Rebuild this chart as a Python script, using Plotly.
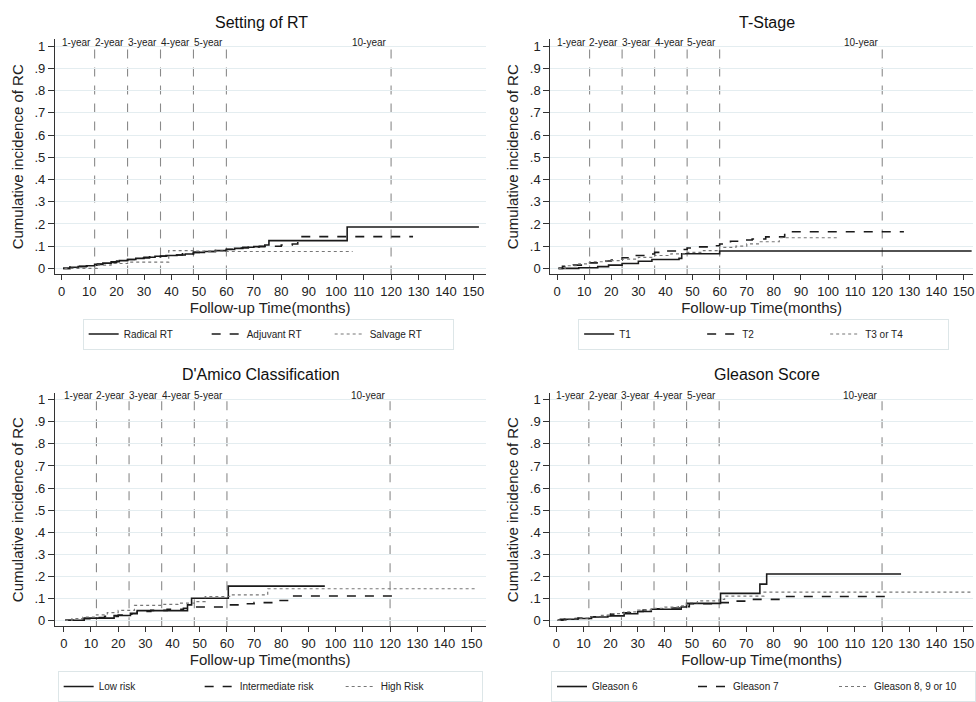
import plotly.graph_objects as go

# ---------------- data ----------------
x_ticks = list(range(0, 151, 10))
y_ticks = [0, 0.1, 0.2, 0.3, 0.4, 0.5, 0.6, 0.7, 0.8, 0.9, 1.0]
y_tick_text = ["0", ".1", ".2", ".3", ".4", ".5", ".6", ".7", ".8", ".9", "1"]
year_marks = [12, 24, 36, 48, 60, 120]
year_labels = ["1-year", "2-year", "3-year", "4-year", "5-year", "10-year"]

panel_titles = ["Setting of RT", "T-Stage", "D'Amico Classification", "Gleason Score"]

# Panel 1: Setting of RT
radical_t = [0.5, 3, 6, 9, 12, 15, 18, 21, 24, 27, 30, 34, 38, 42, 45, 48, 52, 56, 60, 63, 66, 70, 74, 75.5, 85, 104, 152]
radical_y = [0, 0.005, 0.008, 0.012, 0.018, 0.024, 0.030, 0.035, 0.040, 0.045, 0.050, 0.055, 0.058, 0.060, 0.065, 0.072, 0.076, 0.080, 0.085, 0.090, 0.095, 0.098, 0.105, 0.125, 0.125, 0.186, 0.186]
adjuvant_t = [0.5, 3, 6, 10, 13, 16, 20, 24, 28, 32, 36, 40, 44, 48, 52, 56, 60, 64, 68, 72, 76, 80, 84, 86, 128]
adjuvant_y = [0, 0.006, 0.010, 0.014, 0.020, 0.027, 0.033, 0.040, 0.047, 0.052, 0.056, 0.060, 0.066, 0.072, 0.076, 0.080, 0.086, 0.092, 0.096, 0.100, 0.100, 0.105, 0.110, 0.143, 0.143]
salvage_t = [1, 13, 18, 24, 39, 48, 60, 106]
salvage_y = [0, 0.015, 0.022, 0.028, 0.080, 0.078, 0.076, 0.076]

# Panel 2: T-Stage
t1_t = [0.5, 8, 15, 19, 24, 30, 35, 45, 46, 60, 153]
t1_y = [0, 0.003, 0.008, 0.015, 0.022, 0.032, 0.040, 0.045, 0.066, 0.078, 0.078]
t2_t = [0.5, 2, 6, 12, 16, 20, 24, 28, 32, 36, 40, 44, 48, 52, 56, 60, 64, 68, 72, 77, 84, 128]
t2_y = [0, 0.010, 0.015, 0.025, 0.033, 0.038, 0.048, 0.058, 0.065, 0.072, 0.078, 0.085, 0.092, 0.097, 0.102, 0.110, 0.122, 0.128, 0.132, 0.142, 0.165, 0.165]
t34_t = [0.5, 3, 8, 12, 18, 24, 30, 36, 42, 48, 54, 60, 66, 70, 75, 82, 104]
t34_y = [0, 0.012, 0.020, 0.030, 0.035, 0.042, 0.050, 0.058, 0.065, 0.072, 0.080, 0.095, 0.100, 0.110, 0.120, 0.138, 0.138]

# Panel 3: D'Amico
low_t = [0.5, 7.5, 18.5, 24.5, 27, 45.5, 47, 60.5, 96]
low_y = [0, 0.010, 0.022, 0.032, 0.044, 0.070, 0.100, 0.155, 0.155]
inter_t = [0.5, 5, 10, 15, 20, 25, 27, 32, 38, 44, 47, 60, 65, 70, 77, 84, 122]
inter_y = [0, 0.007, 0.012, 0.018, 0.024, 0.030, 0.040, 0.045, 0.050, 0.055, 0.060, 0.070, 0.075, 0.080, 0.090, 0.110, 0.110]
high_t = [0.5, 3, 7, 12, 16, 20, 26, 36, 42, 48, 52, 61, 75, 152]
high_y = [0, 0.008, 0.015, 0.025, 0.035, 0.045, 0.068, 0.072, 0.078, 0.085, 0.108, 0.115, 0.143, 0.143]

# Panel 4: Gleason
g6_t = [0.5, 1.5, 7, 13, 19, 25, 30, 35, 46, 48, 60.5, 75, 77.5, 127]
g6_y = [0, 0.005, 0.008, 0.015, 0.020, 0.030, 0.040, 0.050, 0.060, 0.077, 0.122, 0.164, 0.210, 0.210]
g7_t = [0.5, 3, 8, 12, 16, 20, 24, 28, 32, 36, 42, 47, 49, 60, 64, 72, 84, 122]
g7_y = [0, 0.005, 0.010, 0.016, 0.022, 0.028, 0.034, 0.040, 0.046, 0.052, 0.056, 0.062, 0.075, 0.080, 0.087, 0.095, 0.108, 0.108]
g8_t = [0.5, 4, 8, 12, 16, 20, 25, 30, 35, 40, 45, 48, 52, 60, 62, 76.5, 153]
g8_y = [0, 0.006, 0.010, 0.016, 0.022, 0.030, 0.038, 0.046, 0.054, 0.060, 0.066, 0.080, 0.088, 0.095, 0.110, 0.128, 0.128]

panels = [
    [("Radical RT", radical_t, radical_y), ("Adjuvant RT", adjuvant_t, adjuvant_y), ("Salvage RT", salvage_t, salvage_y)],
    [("T1", t1_t, t1_y), ("T2", t2_t, t2_y), ("T3 or T4", t34_t, t34_y)],
    [("Low risk", low_t, low_y), ("Intermediate risk", inter_t, inter_y), ("High Risk", high_t, high_y)],
    [("Gleason 6", g6_t, g6_y), ("Gleason 7", g7_t, g7_y), ("Gleason 8, 9 or 10", g8_t, g8_y)],
]

# ---------------- layout helpers ----------------
W, H = 976, 702
FONT = "Liberation Sans, Arial, Helvetica, sans-serif"
styles = [
    dict(color="#1a1a1a", width=1.6, dash="solid"),
    dict(color="#1a1a1a", width=1.6, dash="dash"),
    dict(color="#777777", width=1.2, dash="dot"),
]

# pixel geometry per panel: (left, right, top, bottom, xmin, xmax)
geom = [
    (55, 487, 40, 280, -2.5, 154.4),
    (552, 976, 40, 280, -2.5, 153.5),
    (55, 487, 401, 639, -3.3, 155.1),
    (552, 976, 401, 639, -2.2, 153.5),
]
y_range = [-0.027, 1.031]
title_pos = [(262, 23), (769, 23), (262, 382), (769, 382)]
legend_pos = [(269, 325), (766, 325), (271, 685), (766, 685)]
legend_entry_w = [78, 78, 96, 96]


def px_x(p):
    return p / W


def px_y(p):
    return 1 - p / H


fig = go.Figure()
layout = dict(
    width=W, height=H, margin=dict(l=0, r=0, t=0, b=0),
    paper_bgcolor="white", plot_bgcolor="white",
    font=dict(family=FONT, color="#222222"),
    shapes=[], annotations=[],
)

for i, series in enumerate(panels):
    k = "" if i == 0 else str(i + 1)
    L, R, T, B, xmin, xmax = geom[i]
    leg = "legend" if i == 0 else f"legend{i+1}"
    for j, (name, tt, yy) in enumerate(series):
        fig.add_trace(go.Scatter(
            x=tt, y=yy, mode="lines", name=name, line=dict(shape="hv", **styles[j]),
            xaxis="x" + k, yaxis="y" + k, legend=leg, hoverinfo="skip",
        ))
    layout["xaxis" + k] = dict(
        domain=[px_x(L), min(1, px_x(R))], range=[xmin, xmax], anchor="y" + k, automargin=False,
        tickvals=x_ticks, ticks="outside", ticklen=5, tickcolor="#333",
        showline=True, linecolor="#333", linewidth=1, showgrid=False, zeroline=False,
        tickfont=dict(size=13, color="#222"),
        title=dict(text="Follow-up Time(months)", font=dict(size=15, color="#222"), standoff=4),
    )
    layout["yaxis" + k] = dict(
        domain=[px_y(B), px_y(T)], range=y_range, anchor="x" + k, automargin=False,
        tickvals=y_ticks, ticktext=y_tick_text, ticks="outside", ticklen=6, tickcolor="#333",
        showline=True, linecolor="#333", linewidth=1, showgrid=True, gridcolor="#e4edf0",
        zeroline=False, tickfont=dict(size=13, color="#222"),
        title=dict(text="Cumulative incidence of RC", font=dict(size=15, color="#222"), standoff=7),
    )
    layout[leg] = dict(
        orientation="h", x=px_x(legend_pos[i][0]), y=px_y(legend_pos[i][1]),
        xanchor="center", yanchor="top", bordercolor="#dde6e8", borderwidth=1,
        font=dict(size=10, color="#222"), entrywidth=legend_entry_w[i], tracegroupgap=0,
        itemclick=False,
    )
    for xv, lab in zip(year_marks, year_labels):
        layout["shapes"].append(dict(
            type="line", xref="x" + k, yref="y" + k, x0=xv, x1=xv, y0=y_range[0], y1=1.02,
            line=dict(color="#8a8a8a", width=1.1, dash="dash"), layer="below",
        ))
        layout["annotations"].append(dict(
            xref="x" + k, yref="y" + k, x=xv - 0.6, y=1.018, text=lab, showarrow=False,
            xanchor="right", yanchor="middle", font=dict(size=10, color="#222"),
        ))
    layout["annotations"].append(dict(
        xref="paper", yref="paper", x=px_x(title_pos[i][0]), y=px_y(title_pos[i][1]),
        text=panel_titles[i], showarrow=False, xanchor="center", yanchor="middle",
        font=dict(size=16, color="#111"),
    ))

fig.update_layout(**layout)
fig.write_html(
    "out.html",
    config={"displayModeBar": False},
    post_script="document.body.style.margin='0';document.body.style.overflow='hidden';",
)
